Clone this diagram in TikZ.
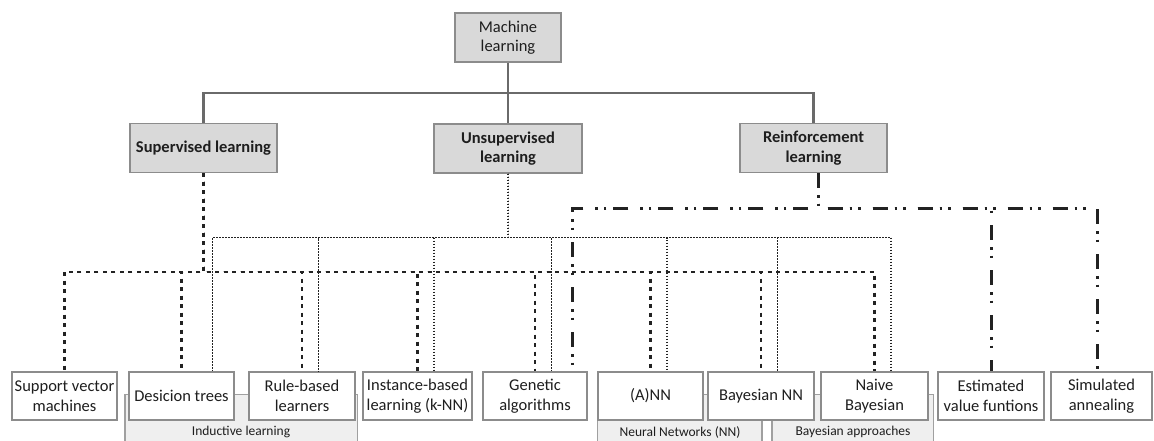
\documentclass[tikz,border=0pt]{standalone}
\usepackage{fontspec}
\setmainfont{Carlito}
\definecolor{boxline}{HTML}{8C8C8C}
\definecolor{topfill}{HTML}{D9D9D9}
\definecolor{grpfill}{HTML}{EFEFEF}
\definecolor{grpline}{HTML}{A0A0A0}
\definecolor{solidc}{HTML}{6A6A6A}
\definecolor{dotc}{HTML}{222222}
\definecolor{txt}{HTML}{1E1E1E}
\begin{document}
\begin{tikzpicture}[x=1pt,y=-1pt,
  topbox/.style={draw=boxline,line width=1.4pt,fill=topfill,inner sep=0pt,align=center,
    minimum height=49pt,text=txt,font=\fontsize{16.5}{19.5}\selectfont},
  leafbox/.style={draw=boxline,line width=1.4pt,fill=white,inner sep=0pt,align=center,
    minimum height=48pt,text=txt,font=\fontsize{16.5}{19.5}\selectfont},
  grpbox/.style={draw=grpline,line width=1.2pt,fill=grpfill},
  grplabel/.style={text=txt,font=\fontsize{13.5}{15}\selectfont,inner sep=0pt},
  solidconn/.style={draw=solidc,line width=2.2pt},
  sdot/.style={draw=dotc,line width=2.6pt,dash pattern=on 4pt off 4.5pt},
  udot/.style={draw=dotc,line width=1.9pt,dash pattern=on 1.5pt off 1.5pt},
  rdash/.style={draw=dotc,line width=3pt,dash pattern=on 15pt off 7pt on 2.5pt off 6pt on 2.5pt off 12pt}
]
\clip (0,0) rectangle (1154,441);
\fill[white] (0,0) rectangle (1154,441);

% groups
\draw[grpbox] (125,394.5) rectangle (357.5,460);
\draw[grpbox] (597.5,394.5) rectangle (762,460);
\draw[grpbox] (772,394.5) rectangle (933.5,460);
\node[grplabel] (gind) at (241,432) {Inductive learning};
\node[grplabel] (gnn) at (680,432) {Neural Networks (NN)};
\node[grplabel] (gba) at (853,432) {Bayesian approaches};

% top levels
\node[topbox,minimum width=106pt] (ml) at (508,37.5) {Machine\\learning};
\node[topbox,minimum width=147pt,font=\fontsize{16.5}{19.5}\selectfont\bfseries] (sup) at (203.5,148) {Supervised learning};
\node[topbox,minimum width=148pt,font=\fontsize{16.5}{19.5}\selectfont\bfseries] (uns) at (508,148.5) {Unsupervised\\learning};
\node[topbox,minimum width=147pt,font=\fontsize{16.5}{19.5}\selectfont\bfseries] (rl) at (813.5,148) {Reinforcement\\learning};

% leaves
\node[leafbox,minimum width=105pt] (svm) at (64.5,396) {Support vector\\machines};
\node[leafbox,minimum width=105pt] (dt) at (181.5,396) {Desicion trees};
\node[leafbox,minimum width=106pt] (rb) at (302,396) {Rule-based\\learners};
\node[leafbox,minimum width=109pt] (ib) at (417.5,396) {Instance-based\\learning (k-NN)};
\node[leafbox,minimum width=104pt] (ga) at (535,396) {Genetic\\algorithms};
\node[leafbox,minimum width=105pt] (ann) at (650.5,396) {(A)NN};
\node[leafbox,minimum width=106pt] (bnn) at (761,396) {Bayesian NN};
\node[leafbox,minimum width=107pt] (nb) at (874.5,396) {Naive\\Bayesian};
\node[leafbox,minimum width=106pt] (ev) at (991,396) {Estimated\\value funtions};
\node[leafbox,minimum width=101pt] (sa) at (1101.5,396) {Simulated\\annealing};

% junction levels
\coordinate (hT) at (0,93);
\coordinate (hS) at (0,272);
\coordinate (hU) at (0,237.5);
\coordinate (hR) at (0,208.5);

% solid tree
\draw[solidconn] (ml.south) -- (uns.north);
\draw[solidconn] (ml.south |- hT) -| (sup.north);
\draw[solidconn] (ml.south |- hT) -| (rl.north);

% supervised (coarse dotted)
\foreach \n in {svm,dt,rb,ib,ga,ann,bnn,nb}
  \draw[sdot] (sup.south) -- (sup.south |- hS) -| (\n.north);

% unsupervised (fine dotted)
\draw[udot] (uns.south) -- (uns.south |- hU) -| ([xshift=31]dt.north);
\foreach \n in {rb,ib,ga,ann,bnn,nb}
  \draw[udot] (uns.south) -- (uns.south |- hU) -| ([xshift=16.5]\n.north);

% reinforcement (dash dot dot)
\coordinate (rlo) at ([xshift=4.5]rl.south);
\draw[rdash] (rlo) -- (rlo |- hR) -| ([xshift=37]ga.north);
\draw[rdash] (rlo) -- (rlo |- hR) -| (ev.north);
\draw[rdash] (rlo) -- (rlo |- hR) -| ([xshift=-4.5]sa.north);
\end{tikzpicture}
\end{document}
